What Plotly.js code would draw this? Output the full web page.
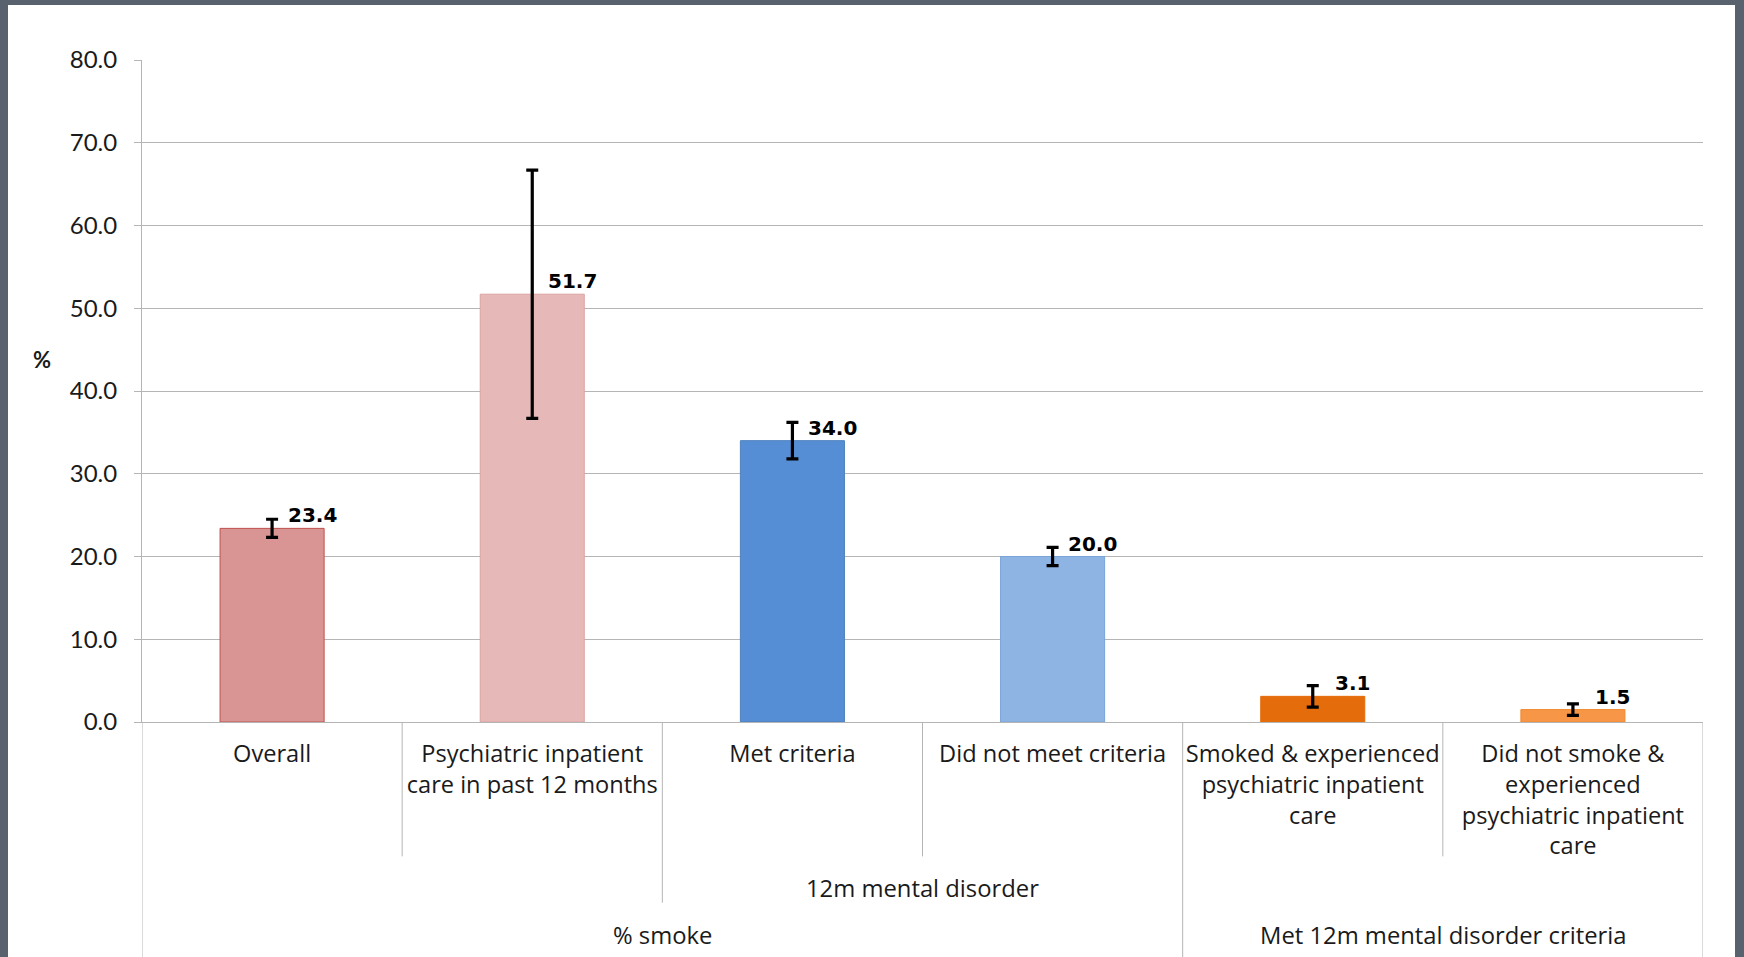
<!DOCTYPE html>
<html><head><meta charset="utf-8">
<script src="https://cdn.plot.ly/plotly-3.0.1.min.js"></script>
<style>
html,body{margin:0;padding:0;background:#58626f;width:1744px;height:957px;overflow:hidden}
#frame{position:absolute;left:8px;top:5px;width:1727px;height:952px;background:#fff;box-shadow:inset 0 0 0 1px #c9cdd2}
#chart{width:1727px;height:952px}
</style></head><body><div id="frame"><div id="chart"></div></div>
<script>
// ---- data ----
const categories = ['Overall', 'Psychiatric inpatient care in past 12 months', 'Met criteria',
  'Did not meet criteria', 'Smoked & experienced psychiatric inpatient care',
  'Did not smoke & experienced psychiatric inpatient care'];
const tickLabels = ['Overall', 'Psychiatric inpatient<br>care in past 12 months', 'Met criteria',
  'Did not meet criteria', 'Smoked & experienced<br>psychiatric inpatient<br>care',
  'Did not smoke &<br>experienced<br>psychiatric inpatient<br>care'];
const values = [23.4, 51.7, 34.0, 20.0, 3.1, 1.5];
const errors = [1.1, 15.0, 2.2, 1.1, 1.3, 0.7];
const level2Groups = [{label: '12m mental disorder', first: 2, last: 3}];
const level3Groups = [{label: '% smoke', first: 0, last: 3},
                      {label: 'Met 12m mental disorder criteria', first: 4, last: 5}];
const yTicks = [0, 10, 20, 30, 40, 50, 60, 70, 80];

// ---- styles ----
const fillColors = ['#d99594', '#e6b8b7', '#558ed5', '#8eb4e3', '#e46c0a', '#f79646'];
const lineColors = ['#c0504d', '#dca3a2', '#4f81bd', '#7aa3d8', '#e46c0a', '#f08a30'];
const FONT = 'Lato, "Open Sans", "Liberation Sans", sans-serif';
const WIDE = '"Open Sans", Lato, "Liberation Sans", sans-serif';
const BOLD = '"DejaVu Sans", Verdana, sans-serif';
const TXT = '#1a1a1a';
const GRID = '#b5b5b5';
const dividerDepth = {1: -0.203, 2: -0.273, 3: -0.36};
const groupY = {2: -0.251, 3: -0.321};

const trace = {
  type: 'bar', x: categories, y: values,
  marker: {color: fillColors, line: {color: lineColors, width: 1}},
  width: 0.4,
  error_y: {type: 'data', array: errors, visible: true, color: '#000', thickness: 3.2, width: 6},
  hoverinfo: 'x+y'
};

// divider levels
const n = categories.length;
const level = new Array(n + 1).fill(1);
level2Groups.forEach(g => { level[g.first] = Math.max(level[g.first], 2); level[g.last + 1] = Math.max(level[g.last + 1], 2); });
level3Groups.forEach(g => { level[g.first] = 3; level[g.last + 1] = 3; });

const shapes = level.map((lv, b) => ({
  type: 'line', xref: 'x', yref: 'paper', x0: b - 0.5, x1: b - 0.5, y0: 0, y1: dividerDepth[lv],
  line: {color: GRID, width: 1}
}));

const annotations = [];
values.forEach((v, i) => annotations.push({
  x: categories[i], y: v, xref: 'x', yref: 'y', text: '<b>' + v.toFixed(1) + '</b>',
  showarrow: false, xanchor: 'center', yanchor: 'middle', xshift: 40, yshift: 13,
  font: {family: BOLD, size: 20, color: '#000'}
}));
level2Groups.forEach(g => annotations.push({
  x: (g.first + g.last) / 2, y: groupY[2], xref: 'x', yref: 'paper', text: g.label,
  showarrow: false, xanchor: 'center', yanchor: 'middle', font: {family: WIDE, size: 23.8, color: TXT}
}));
level3Groups.forEach(g => annotations.push({
  x: (g.first + g.last) / 2, y: groupY[3], xref: 'x', yref: 'paper', text: g.label,
  showarrow: false, xanchor: 'center', yanchor: 'middle', font: {family: WIDE, size: 23.8, color: TXT}
}));
annotations.push({
  x: -0.064, y: 0.548, xref: 'paper', yref: 'paper', text: '<b>%</b>', showarrow: false,
  xanchor: 'center', yanchor: 'middle', font: {family: FONT, size: 22, color: TXT}
});

const layout = {
  width: 1727, height: 952,
  margin: {l: 134, r: 32, t: 55, b: 235},
  paper_bgcolor: '#ffffff', plot_bgcolor: '#ffffff',
  showlegend: false,
  font: {family: FONT, color: TXT},
  xaxis: {
    type: 'category', categoryorder: 'array', categoryarray: categories,
    tickvals: categories, ticktext: tickLabels, range: [-0.5, n - 0.5],
    showline: true, linecolor: GRID, linewidth: 1, ticks: '', showgrid: false,
    ticklabelstandoff: 11,
    tickfont: {family: WIDE, size: 23.6, color: TXT}, tickangle: 0, fixedrange: true
  },
  yaxis: {
    range: [0, 80], tickvals: yTicks, tickformat: '.1f',
    showgrid: true, gridcolor: GRID, gridwidth: 1, zeroline: false,
    showline: true, linecolor: GRID, linewidth: 1,
    ticks: 'outside', ticklen: 7, tickcolor: GRID, ticklabelstandoff: 12,
    tickfont: {family: FONT, size: 24, color: TXT}, fixedrange: true
  },
  shapes: shapes,
  annotations: annotations
};

Plotly.newPlot('chart', [trace], layout, {displayModeBar: false, staticPlot: true});
</script>
</body></html>
